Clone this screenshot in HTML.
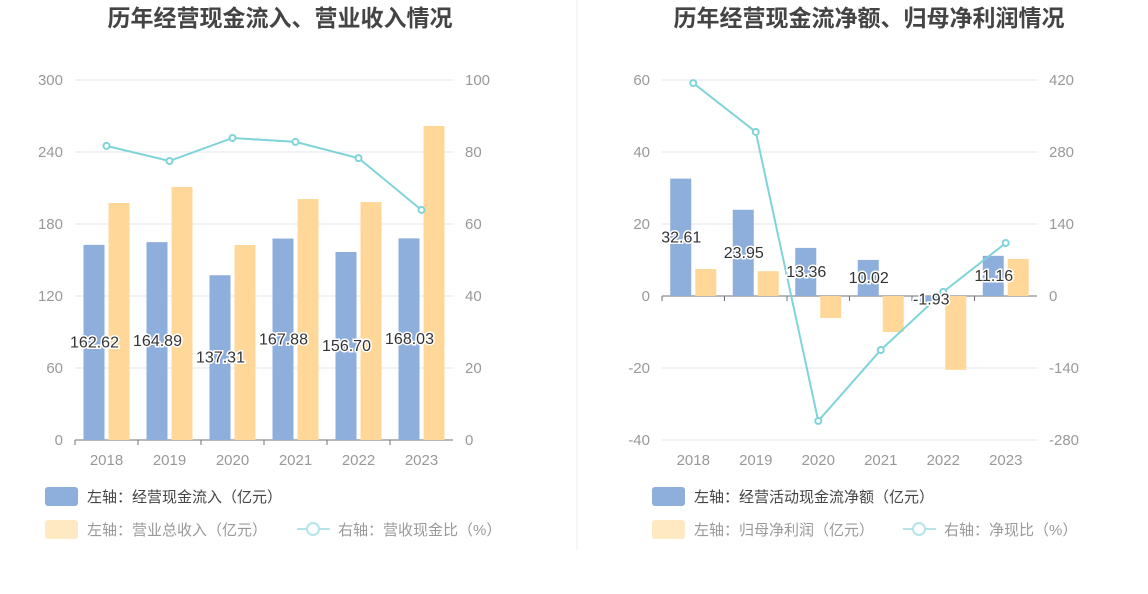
<!DOCTYPE html>
<html><head><meta charset="utf-8"><style>
body{margin:0;background:#fff;width:1148px;height:589px;overflow:hidden;font-family:"Liberation Sans","Noto Sans CJK SC",sans-serif}
svg text{font-family:"Liberation Sans","Noto Sans CJK SC",sans-serif}
</style></head><body>
<svg id="svg" width="1148" height="589">
<line x1="577" y1="0" x2="577" y2="550" stroke="#eee"/>
<text x="280" y="26" text-anchor="middle" font-size="23" font-weight="bold" fill="#444">历年经营现金流入、营业收入情况</text>
<text x="869" y="26" text-anchor="middle" font-size="23" font-weight="bold" fill="#444">历年经营现金流净额、归母净利润情况</text>
<g id="L"></g><g id="R"></g>
<g>
<rect x="45" y="487" width="33" height="19" rx="3" fill="#8eaedc"/>
<text x="87" y="502" font-size="15" fill="#444">左轴：经营现金流入（亿元）</text>
<rect x="45" y="520" width="33" height="19" rx="3" fill="#ffe9c2"/>
<text x="87" y="535" font-size="15" fill="#999">左轴：营业总收入（亿元）</text>
<line x1="297" y1="529" x2="330" y2="529" stroke="#b5e5e8" stroke-width="2"/>
<circle cx="313" cy="529" r="6" fill="#fff" stroke="#b5e5e8" stroke-width="2"/>
<text x="338" y="535" font-size="15" fill="#999">右轴：营收现金比（%）</text>
</g>
<g>
<rect x="652" y="487" width="33" height="19" rx="3" fill="#8eaedc"/>
<text x="694" y="502" font-size="15" fill="#444">左轴：经营活动现金流净额（亿元）</text>
<rect x="652" y="520" width="33" height="19" rx="3" fill="#ffe9c2"/>
<text x="694" y="535" font-size="15" fill="#999">左轴：归母净利润（亿元）</text>
<line x1="903" y1="529" x2="936" y2="529" stroke="#b5e5e8" stroke-width="2"/>
<circle cx="919" cy="529" r="6" fill="#fff" stroke="#b5e5e8" stroke-width="2"/>
<text x="944" y="535" font-size="15" fill="#999">右轴：净现比（%）</text>
</g>
</svg>
<script>
const years=["2018","2019","2020","2021","2022","2023"];
const cashInflow=[162.62,164.89,137.31,167.88,156.70,168.03];
const revenue=[197.5,210.8,162.5,200.8,198.3,261.7];
const cashRatio=[81.7,77.5,83.9,82.8,78.3,63.9];
const leftTicks=[0,60,120,180,240,300];
const leftRightTicks=[0,20,40,60,80,100];
const netCash=[32.61,23.95,13.36,10.02,-1.93,11.16];
const netProfit=[7.5,6.9,-6.1,-10.0,-20.5,10.3];
const netRatio=[414,319,-243,-105,8,103];
const rightTicks=[-40,-20,0,20,40,60];
const rightRightTicks=[-280,-140,0,140,280,420];
const NS="http://www.w3.org/2000/svg";
function mk(p,t,a,txt){const e=document.createElementNS(NS,t);for(const k in a)e.setAttribute(k,a[k]);if(txt!==undefined)e.textContent=txt;p.appendChild(e);return e;}
function chart(g,cfg){
 const {x0,x1,yTop,yBot,lmin,lmax,rmin,rmax,lt,rt,a,b,line}=cfg;
 const yl=v=>yBot-(v-lmin)/(lmax-lmin)*(yBot-yTop);
 const yr=v=>yBot-(v-rmin)/(rmax-rmin)*(yBot-yTop);
 const bw=(x1-x0)/years.length;
 const xc=i=>x0+bw*(i+0.5);
 lt.forEach((t,i)=>{const y=yl(t);
  const gl=mk(g,'line',{x1:x0,x2:x1,y1:y,y2:y,stroke:'#e0e6f1'});
  
  const tl=mk(g,'text',{x:x0-12,y:y+5,'text-anchor':'end','font-size':15,fill:'#999'},t);
  
  const tr=mk(g,'text',{x:x1+12,y:yr(rt[i])+5,'font-size':15,fill:'#999'},rt[i]);
  
 });
 const z=yl(Math.max(0,lmin));
 const ax=mk(g,'line',{x1:x0,x2:x1,y1:z,y2:z,stroke:'#6e7079'});
 
 years.forEach((yv,i)=>{
  mk(g,'line',{x1:x0+bw*i,x2:x0+bw*i,y1:z,y2:z+5,stroke:'#6e7079'});
  const t=mk(g,'text',{x:xc(i),y:yBot+25,'text-anchor':'middle','font-size':15,fill:'#999'},yv);
  
  const w=21;
  const y1=yl(a[i]);
  const r1=mk(g,'rect',{x:xc(i)-w-2,y:Math.min(y1,z),width:w,height:Math.abs(z-y1),fill:'#8eaedc'});
  
  const y2=yl(b[i]);
  const r2=mk(g,'rect',{x:xc(i)+2,y:Math.min(y2,z),width:w,height:Math.abs(z-y2),fill:'#ffd899'});
  
 });
 let d='';years.forEach((_,i)=>{d+=(i?'L':'M')+xc(i)+','+yr(line[i]);});
 const p=mk(g,'path',{d:d,fill:'none',stroke:'#7fd4d9','stroke-width':2});
 
 years.forEach((yv,i)=>{const c=mk(g,'circle',{cx:xc(i),cy:yr(line[i]),r:3,fill:'#fff',stroke:'#7fd4d9','stroke-width':2});
  });
 years.forEach((yv,i)=>{const y1=yl(a[i]);const ly=(y1+z)/2+5;
  const t=mk(g,'text',{x:xc(i)-12,y:ly,'text-anchor':'middle','font-size':16,fill:'#333',stroke:'#fff','stroke-width':3,'paint-order':'stroke'},a[i].toFixed(2));
  });
}
chart(document.getElementById('L'),{x0:75,x1:453,yTop:80,yBot:440,lmin:0,lmax:300,rmin:0,rmax:100,lt:leftTicks,rt:leftRightTicks,a:cashInflow,b:revenue,line:cashRatio});
chart(document.getElementById('R'),{x0:662,x1:1037,yTop:80,yBot:440,lmin:-40,lmax:60,rmin:-280,rmax:420,lt:rightTicks,rt:rightRightTicks,a:netCash,b:netProfit,line:netRatio});
</script>
</body></html>
